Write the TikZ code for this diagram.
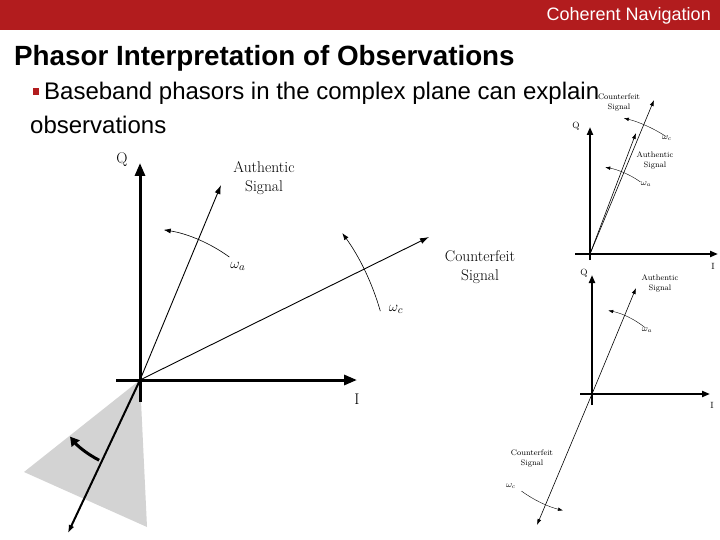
\documentclass[tikz,border=0pt]{standalone}
\usepackage{fontspec}
\newfontfamily\arial{Liberation Sans}
\usetikzlibrary{arrows.meta}
\definecolor{hdr}{RGB}{178,28,30}
\definecolor{tri}{RGB}{211,211,211}
\begin{document}
\begin{tikzpicture}[x=1pt,y=1pt,
  axisline/.style={line width=3pt,-{Triangle[length=13pt,width=10pt]}},
  phasor/.style={line width=0.9pt,-{Latex[length=9pt,width=6pt]}},
  rot/.style={line width=0.6pt,-{Latex[length=7pt,width=5pt]}},
  bigrot/.style={line width=3pt,-{Triangle[length=9pt,width=10pt]}},
  negline/.style={line width=2pt,-{Latex[length=8pt,width=6pt]}},
  lbl/.style={font=\fontsize{15.5}{19}\selectfont,align=center,inner sep=0pt},
  saxis/.style={line width=2pt,-{Triangle[length=8pt,width=6pt]}},
  sphasor/.style={line width=0.6pt,-{Latex[length=6pt,width=4pt]}},
  srot/.style={line width=0.4pt,-{Latex[length=5pt,width=3.5pt]}},
  slbl/.style={font=\fontsize{8}{10}\selectfont,align=center,inner sep=0pt},
  slbls/.style={font=\fontsize{9}{10}\selectfont,inner sep=0pt},
  slidetext/.style={anchor=base west,inner sep=0pt,font=\arial\fontsize{24}{27}\selectfont}
]
\useasboundingbox (0,0) rectangle (720,-540);
% header
\fill[hdr] (0,0) rectangle (720,-30);
\node[anchor=base east,text=white,inner sep=0pt,font=\arial\fontsize{18}{20}\selectfont] (hdrtext) at (711,-21) {Coherent Navigation};
\node[anchor=base west,inner sep=0pt,font=\arial\bfseries\fontsize{27.8}{30}\selectfont] (title) at (14,-66) {Phasor Interpretation of Observations};

% ---------- main diagram ----------
\coordinate (O) at (140,-380);
\fill[tri] (O) -- (24,-472) -- (147,-527) -- cycle;
\coordinate (Qt) at (140,-163);
\coordinate (Qb) at (140,-402);
\coordinate (Il) at (116,-380);
\coordinate (It) at (357,-380);
\draw[axisline] (Qb) -- (Qt);
\draw[axisline] (Il) -- (It);
\node[lbl] (Qlab) at (122,-160) {Q};
\node[lbl] (Ilab) at (357,-399) {I};
\coordinate (At) at (221,-185);
\coordinate (Ct) at (429,-237);
\draw[phasor] (O) -- (At);
\draw[phasor] (O) -- (Ct);
\node[lbl] (Alab) at (264,-178) {Authentic\\Signal};
\node[lbl] (Clab) at (480,-267) {Counterfeit\\Signal};
\draw[rot] ([shift={(54:152pt)}]O) arc[start angle=54,end angle=81,radius=152pt];
\node[lbl] (wa) at (238,-266) {$\omega_a$};
\draw[rot] ([shift={(16:250pt)}]O) arc[start angle=16,end angle=36,radius=250pt];
\node[lbl] (wc) at (396,-309) {$\omega_c$};
\coordinate (Dt) at (68,-533);
\draw[negline] (O) -- (Dt);
\draw[bigrot] ([shift={(243:90pt)}]O) arc[start angle=243,end angle=219,radius=90pt];

% ---------- small diagram, top ----------
\coordinate (O1) at (590,-254);
\coordinate (Q1t) at (590,-127);
\coordinate (Q1b) at (590,-260);
\coordinate (I1l) at (575,-254);
\coordinate (I1t) at (718,-254);
\draw[saxis] (Q1b) -- (Q1t);
\draw[saxis] (I1l) -- (I1t);
\node[slbls] (Q1lab) at (576,-126) {Q};
\node[slbls] (I1lab) at (713,-266) {I};
\coordinate (C1t) at (654,-100);
\coordinate (A1t) at (636,-133);
\draw[sphasor] (O1) -- (C1t);
\draw[sphasor] (O1) -- (A1t);
\node[slbl] (C1lab) at (619,-103) {Counterfeit\\Signal};
\node[slbl] (A1lab) at (655,-160) {Authentic\\Signal};
\draw[srot] ([shift={(57:140pt)}]O1) arc[start angle=57,end angle=76,radius=140pt];
\node[slbls] (wc1) at (667,-138) {$\omega_c$};
\draw[srot] ([shift={(55:88pt)}]O1) arc[start angle=55,end angle=80,radius=88pt];
\node[slbls] (wa1) at (646,-184) {$\omega_a$};

% ---------- small diagram, bottom ----------
\coordinate (O2) at (592,-394);
\coordinate (Q2t) at (592,-275);
\coordinate (Q2b) at (592,-405);
\coordinate (I2l) at (580,-394);
\coordinate (I2t) at (710,-394);
\draw[saxis] (Q2b) -- (Q2t);
\draw[saxis] (I2l) -- (I2t);
\node[slbls] (Q2lab) at (584,-273) {Q};
\node[slbls] (I2lab) at (712,-405) {I};
\coordinate (A2t) at (636,-288);
\coordinate (C2t) at (537,-525);
\draw[sphasor] (O2) -- (A2t);
\draw[sphasor] (O2) -- (C2t);
\node[slbl] (A2lab) at (660,-283) {Authentic\\Signal};
\node[slbl] (C2lab) at (532,-459) {Counterfeit\\Signal};
\draw[srot] ([shift={(51:85pt)}]O2) arc[start angle=51,end angle=79,radius=85pt];
\node[slbls] (wa2) at (647,-330) {$\omega_a$};
\draw[srot] ([shift={(234:120pt)}]O2) arc[start angle=234,end angle=256,radius=120pt];
\node[slbls] (wc2) at (511,-486) {$\omega_c$};

% ---------- bullet text ----------
\fill[hdr] (33,-88) rectangle (39,-95);
\node[slidetext] (b1) at (44,-100) {Baseband phasors in the complex plane can explain};
\node[slidetext] (b2) at (30,-134) {observations};
\end{tikzpicture}
\end{document}
